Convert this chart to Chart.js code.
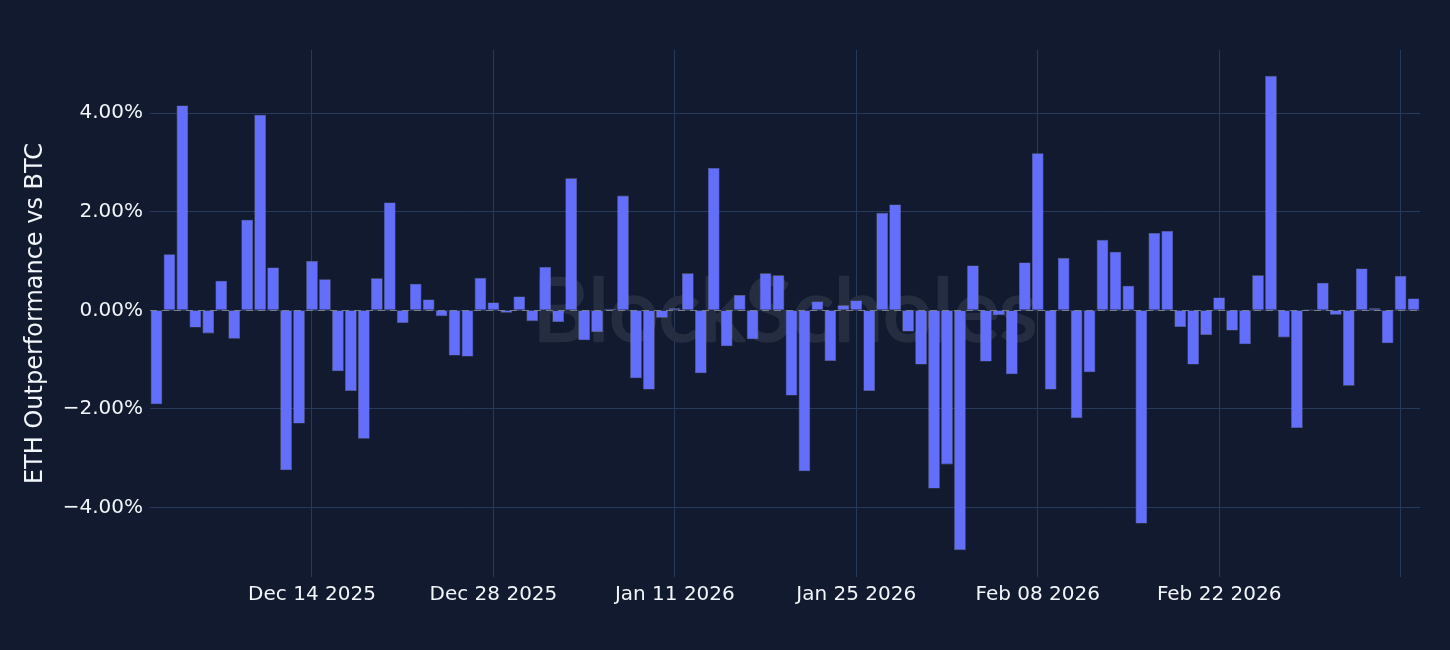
<!DOCTYPE html>
<html>
<head>
<meta charset="utf-8">
<script src="https://cdn.jsdelivr.net/npm/chart.js@4.4.1/dist/chart.umd.min.js"></script>
<style>
  html, body { margin: 0; padding: 0; background: #111a2e; }
  #wrap { width: 1450px; height: 650px; }
</style>
</head>
<body>
<div id="wrap"><canvas id="c" width="1450" height="650"></canvas></div>
<script>
// ---- data ----
const categories = [
  "2025-12-02","2025-12-03","2025-12-04","2025-12-05","2025-12-06","2025-12-07","2025-12-08","2025-12-09","2025-12-10","2025-12-11",
  "2025-12-12","2025-12-13","2025-12-14","2025-12-15","2025-12-16","2025-12-17","2025-12-18","2025-12-19","2025-12-20","2025-12-21",
  "2025-12-22","2025-12-23","2025-12-24","2025-12-25","2025-12-26","2025-12-27","2025-12-28","2025-12-29","2025-12-30","2025-12-31",
  "2026-01-01","2026-01-02","2026-01-03","2026-01-04","2026-01-05","2026-01-06","2026-01-07","2026-01-08","2026-01-09","2026-01-10",
  "2026-01-11","2026-01-12","2026-01-13","2026-01-14","2026-01-15","2026-01-16","2026-01-17","2026-01-18","2026-01-19","2026-01-20",
  "2026-01-21","2026-01-22","2026-01-23","2026-01-24","2026-01-25","2026-01-26","2026-01-27","2026-01-28","2026-01-29","2026-01-30",
  "2026-01-31","2026-02-01","2026-02-02","2026-02-03","2026-02-04","2026-02-05","2026-02-06","2026-02-07","2026-02-08","2026-02-09",
  "2026-02-10","2026-02-11","2026-02-12","2026-02-13","2026-02-14","2026-02-15","2026-02-16","2026-02-17","2026-02-18","2026-02-19",
  "2026-02-20","2026-02-21","2026-02-22","2026-02-23","2026-02-24","2026-02-25","2026-02-26","2026-02-27","2026-02-28","2026-03-01",
  "2026-03-02","2026-03-03","2026-03-04","2026-03-05","2026-03-06","2026-03-07","2026-03-08","2026-03-09"
];
// ETH outperformance vs BTC, in percent
const ethOutperformance = [
  -1.91, 1.14, 4.16, -0.35, -0.47, 0.60, -0.58, 1.84, 3.97, 0.87,
  -3.25, -2.30, 1.00, 0.63, -1.24, -1.64, -2.61, 0.65, 2.19, -0.26,
  0.54, 0.22, -0.12, -0.92, -0.94, 0.66, 0.16, -0.05, 0.28, -0.22,
  0.88, -0.24, 2.68, -0.61, -0.44, 0.03, 2.33, -1.38, -1.61, -0.15,
  0.04, 0.75, -1.28, 2.89, -0.73, 0.31, -0.59, 0.75, 0.71, -1.73,
  -3.27, 0.18, -1.03, 0.10, 0.20, -1.64, 1.98, 2.15, -0.43, -1.10,
  -3.62, -3.13, -4.87, 0.91, -1.04, -0.10, -1.30, 0.97, 3.19, -1.61,
  1.06, -2.19, -1.26, 1.43, 1.19, 0.50, -4.33, 1.57, 1.61, -0.34,
  -1.10, -0.50, 0.26, -0.41, -0.69, 0.71, 4.76, -0.55, -2.39, 0.02,
  0.56, -0.09, -1.53, 0.85, 0.04, -0.67, 0.70, 0.24
];
const xTickDates  = ["2025-12-14","2025-12-28","2026-01-11","2026-01-25","2026-02-08","2026-02-22","2026-03-08"];
const xTickLabels = ["Dec 14 2025","Dec 28 2025","Jan 11 2026","Jan 25 2026","Feb 08 2026","Feb 22 2026",""];
const yTickValues = [-4, -2, 0, 2, 4];
const yTickLabels = ["\u22124.00%","\u22122.00%","0.00%","2.00%","4.00%"];
const yRange = { min: -5.415, max: 5.285 };
const yTitle = "ETH Outperformance vs BTC";
const watermarkText = "BlockScholes";

// ---- styling ----
const BG = "#111a2e";
const GRID = "#283a5c";
const TEXT = "#f2f5fa";
const BAR = "#636efa";
const FONT = "'DejaVu Sans', Verdana, sans-serif";

const bgPlugin = {
  id: "bg",
  beforeDraw(chart) {
    const ctx = chart.ctx;
    ctx.save();
    ctx.fillStyle = BG;
    ctx.fillRect(0, 0, chart.width, chart.height);
    ctx.restore();
  }
};

const watermarkPlugin = {
  id: "watermark",
  beforeDatasetsDraw(chart) {
    const ctx = chart.ctx;
    ctx.save();
    let size = 72;
    const fam = "Lato, 'DejaVu Sans', sans-serif";
    ctx.font = "400 " + size + "px " + fam;
    const w = ctx.measureText(watermarkText).width;
    size = size * 505 / w;
    ctx.font = "400 " + size + "px " + fam;
    ctx.fillStyle = "#252e41";
    ctx.strokeStyle = "#252e41";
    ctx.lineWidth = 2.5;
    ctx.lineJoin = "round";
    ctx.textAlign = "center";
    ctx.textBaseline = "middle";
    const y = chart.scales.y.getPixelForValue(0) + 2;
    ctx.fillText(watermarkText, 785, y);
    ctx.strokeText(watermarkText, 785, y);
    ctx.restore();
  }
};

const zeroLinePlugin = {
  id: "zeroLine",
  afterDatasetsDraw(chart) {
    const ctx = chart.ctx, a = chart.chartArea;
    const y = Math.round(chart.scales.y.getPixelForValue(0)) + 0.5;
    ctx.save();
    ctx.strokeStyle = "rgba(150,150,155,0.75)";
    ctx.lineWidth = 1;
    ctx.setLineDash([7, 5]);
    ctx.beginPath();
    ctx.moveTo(a.left, y);
    ctx.lineTo(a.right, y);
    ctx.stroke();
    ctx.restore();
  }
};

new Chart(document.getElementById("c"), {
  type: "bar",
  data: {
    labels: categories,
    datasets: [{
      data: ethOutperformance,
      backgroundColor: BAR,
      borderColor: "rgba(170,175,215,0.55)",
      borderWidth: 0.6,
      barPercentage: 0.9,
      categoryPercentage: 1.0
    }]
  },
  options: {
    responsive: false,
    animation: false,
    events: [],
    layout: { padding: { top: 50, right: 30, left: 0, bottom: 0 } },
    plugins: { legend: { display: false }, tooltip: { enabled: false } },
    scales: {
      x: {
        type: "category",
        offset: true,
        border: { display: false },
        grid: { offset: false, color: GRID, lineWidth: 1, drawTicks: false },
        afterBuildTicks(scale) {
          scale.ticks = xTickDates.map(d => ({ value: categories.indexOf(d) }));
        },
        afterFit(scale) { scale.height = 73; },
        ticks: {
          autoSkip: false,
          maxRotation: 0,
          minRotation: 0,
          padding: 6,
          color: TEXT,
          font: { family: FONT, size: 20 },
          callback(value) {
            const i = xTickDates.indexOf(categories[value]);
            return i >= 0 ? xTickLabels[i] : "";
          }
        }
      },
      y: {
        min: yRange.min,
        max: yRange.max,
        border: { display: false },
        grid: { color: GRID, lineWidth: 1, drawTicks: false },
        afterBuildTicks(scale) {
          scale.ticks = yTickValues.map(v => ({ value: v }));
        },
        afterFit(scale) { scale.width = 150; },
        title: {
          display: true,
          text: yTitle,
          color: TEXT,
          font: { family: FONT, size: 24 },
          padding: { top: 21, bottom: 0 }
        },
        ticks: {
          padding: 7,
          color: TEXT,
          font: { family: FONT, size: 20 },
          callback(value) {
            const i = yTickValues.indexOf(value);
            return i >= 0 ? yTickLabels[i] : "";
          }
        }
      }
    }
  },
  plugins: [bgPlugin, watermarkPlugin, zeroLinePlugin]
});
</script>
</body>
</html>
